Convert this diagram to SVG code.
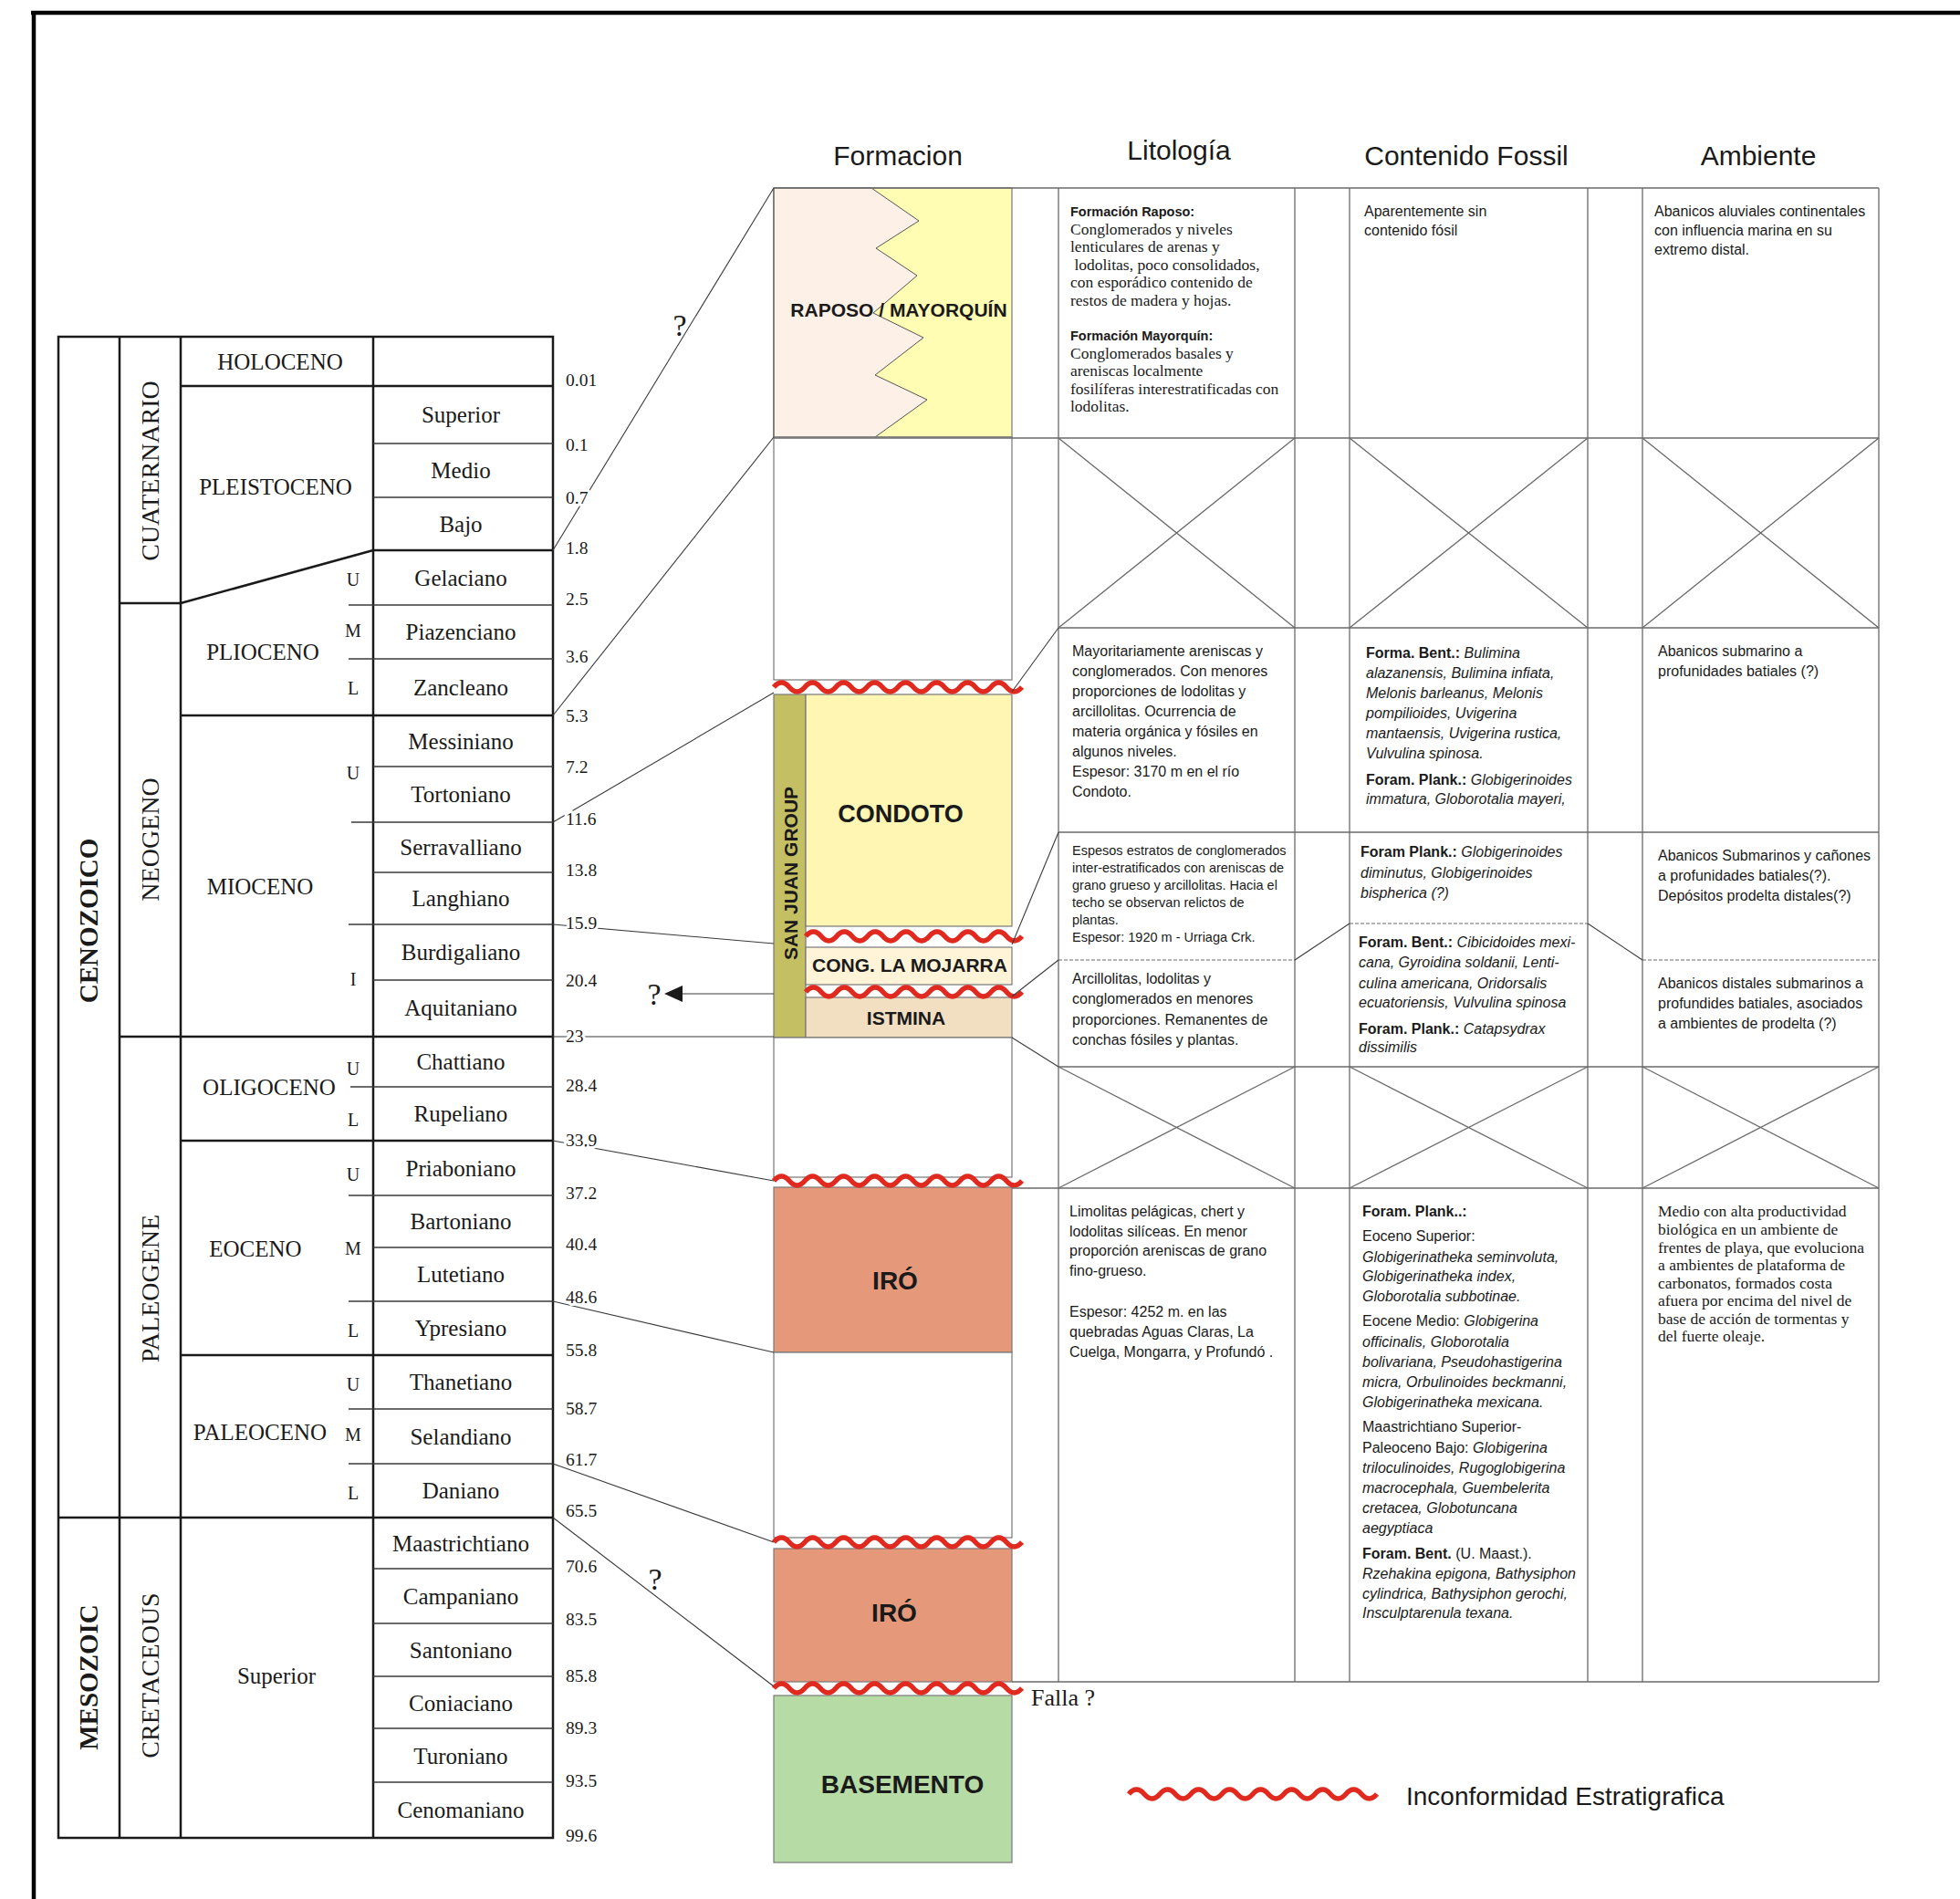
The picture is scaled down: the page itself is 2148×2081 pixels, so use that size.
<svg xmlns="http://www.w3.org/2000/svg" xmlns:xlink="http://www.w3.org/1999/xlink" width="2148" height="2081" viewBox="0 0 2148 2081">
<style>
text{fill:#1a1a1a}
.tn{font-family:"Liberation Serif","Times New Roman",serif}
.ar{font-family:"Liberation Sans",Arial,sans-serif}
.stg{font-size:25px;text-anchor:middle}
.ep{font-size:25px;text-anchor:middle}
.per{font-size:28px;text-anchor:middle}
.era{font-size:29px;font-weight:bold;text-anchor:middle}
.uml{font-size:20px;text-anchor:middle}
.age{font-size:19.5px;stroke:#fff;stroke-width:6px;paint-order:stroke;stroke-linejoin:round}
.hdr{font-size:30px;text-anchor:middle}
.fm{font-weight:bold;text-anchor:middle}
.b{font-weight:bold}
.i{font-style:italic}
.c16{font-size:16px}
.c14{font-size:14.5px}
.t17{font-size:17.5px}
.h14{font-size:14.5px;font-weight:bold}
.thick{stroke:#1a1a1a;stroke-width:2.5;fill:none}
.thin{stroke:#3a3a3a;stroke-width:1.5;fill:none}
.grid{stroke:#6a6a6a;stroke-width:1.3;fill:none}
.dash{stroke:#6a6a6a;stroke-width:1.2;fill:none;stroke-dasharray:4 2}
.conn{stroke:#3a3a3a;stroke-width:1.1;fill:none}
.wave{stroke:#E02A1F;stroke-width:5.5;fill:none;stroke-linecap:butt}
.blk{stroke:#777;stroke-width:1.2}
</style>
<defs>
<path id="w15" d="M0,0q8.5,-10 17,0t17,0t17,0t17,0t17,0t17,0t17,0t17,0t17,0t17,0t17,0t17,0t17,0t17,0t17,0t17,0"/>
<path id="w13" d="M0,0q8.47,-10 16.93,0t16.93,0t16.93,0t16.93,0t16.93,0t16.93,0t16.93,0t16.93,0t16.93,0t16.93,0t16.93,0t16.93,0t16.93,0t16.93,0"/>
</defs>
<rect width="2148" height="2081" fill="#fff"/>

<g id="frame">
<line x1="34" y1="14" x2="2148" y2="14" stroke="#000" stroke-width="4.5"/>
<line x1="37" y1="12" x2="37" y2="2081" stroke="#000" stroke-width="4.5"/>
</g>

<g id="headers" class="ar hdr">
<text x="984" y="181">Formacion</text>
<text x="1292" y="175">Litología</text>
<text x="1607" y="181">Contenido Fossil</text>
<text x="1927" y="181">Ambiente</text>
</g>

<g id="timescale">
<g id="ts-lines">
<rect x="64" y="369" width="542" height="1645" class="thick"/>
<line x1="131" y1="369" x2="131" y2="2014" class="thick"/>
<line x1="198" y1="369" x2="198" y2="2014" class="thick"/>
<line x1="409" y1="369" x2="409" y2="2014" class="thick"/>
<line x1="198" y1="423" x2="606" y2="423" class="thick"/>
<line x1="131" y1="661" x2="198" y2="661" class="thick"/>
<line x1="198" y1="661" x2="409" y2="603" class="thick"/>
<line x1="409" y1="603" x2="606" y2="603" class="thick"/>
<line x1="198" y1="784" x2="606" y2="784" class="thick"/>
<line x1="131" y1="1136" x2="606" y2="1136" class="thick"/>
<line x1="198" y1="1250" x2="606" y2="1250" class="thick"/>
<line x1="198" y1="1485" x2="606" y2="1485" class="thick"/>
<line x1="64" y1="1663" x2="606" y2="1663" class="thick"/>
<line x1="409" y1="486" x2="606" y2="486" class="thin"/>
<line x1="409" y1="545" x2="606" y2="545" class="thin"/>
<line x1="382" y1="663" x2="606" y2="663" class="thin"/>
<line x1="382" y1="722" x2="606" y2="722" class="thin"/>
<line x1="409" y1="840" x2="606" y2="840" class="thin"/>
<line x1="385" y1="901" x2="606" y2="901" class="thin"/>
<line x1="409" y1="956" x2="606" y2="956" class="thin"/>
<line x1="382" y1="1013" x2="606" y2="1013" class="thin"/>
<line x1="409" y1="1074" x2="606" y2="1074" class="thin"/>
<line x1="384" y1="1191" x2="606" y2="1191" class="thin"/>
<line x1="382" y1="1310" x2="606" y2="1310" class="thin"/>
<line x1="409" y1="1367" x2="606" y2="1367" class="thin"/>
<line x1="382" y1="1426" x2="606" y2="1426" class="thin"/>
<line x1="382" y1="1544" x2="606" y2="1544" class="thin"/>
<line x1="382" y1="1604" x2="606" y2="1604" class="thin"/>
<line x1="409" y1="1719" x2="606" y2="1719" class="thin"/>
<line x1="409" y1="1779" x2="606" y2="1779" class="thin"/>
<line x1="409" y1="1837" x2="606" y2="1837" class="thin"/>
<line x1="409" y1="1894" x2="606" y2="1894" class="thin"/>
<line x1="409" y1="1953" x2="606" y2="1953" class="thin"/>
</g>
<g id="ts-eras" class="tn era">
<text transform="translate(107,1009) rotate(-90)">CENOZOICO</text>
<text transform="translate(107,1838) rotate(-90)">MESOZOIC</text>
</g>
<g id="ts-periods" class="tn per">
<text transform="translate(174,516) rotate(-90)">CUATERNARIO</text>
<text transform="translate(174,920) rotate(-90)">NEOGENO</text>
<text transform="translate(174,1412) rotate(-90)">PALEOGENE</text>
<text transform="translate(174,1836) rotate(-90)">CRETACEOUS</text>
</g>
<g id="ts-epochs" class="tn ep">
<text x="307" y="405">HOLOCENO</text>
<text x="302" y="542">PLEISTOCENO</text>
<text x="288" y="723">PLIOCENO</text>
<text x="285" y="980">MIOCENO</text>
<text x="295" y="1200">OLIGOCENO</text>
<text x="280" y="1377">EOCENO</text>
<text x="285" y="1578">PALEOCENO</text>
<text x="303" y="1845">Superior</text>
</g>
<g id="ts-subepochs" class="tn uml">
<text x="387" y="642">U</text><text x="387" y="698">M</text><text x="387" y="761">L</text>
<text x="387" y="854">U</text><text x="387" y="1080">I</text>
<text x="387" y="1178">U</text><text x="387" y="1234">L</text>
<text x="387" y="1294">U</text><text x="387" y="1375">M</text><text x="387" y="1465">L</text>
<text x="387" y="1524">U</text><text x="387" y="1579">M</text><text x="387" y="1643">L</text>
</g>
<g id="ts-stages" class="tn stg">
<text x="505" y="463">Superior</text>
<text x="505" y="524">Medio</text>
<text x="505" y="583">Bajo</text>
<text x="505" y="642">Gelaciano</text>
<text x="505" y="701">Piazenciano</text>
<text x="505" y="762">Zancleano</text>
<text x="505" y="821">Messiniano</text>
<text x="505" y="879">Tortoniano</text>
<text x="505" y="937">Serravalliano</text>
<text x="505" y="993">Langhiano</text>
<text x="505" y="1052">Burdigaliano</text>
<text x="505" y="1113">Aquitaniano</text>
<text x="505" y="1172">Chattiano</text>
<text x="505" y="1229">Rupeliano</text>
<text x="505" y="1289">Priaboniano</text>
<text x="505" y="1347">Bartoniano</text>
<text x="505" y="1405">Lutetiano</text>
<text x="505" y="1464">Ypresiano</text>
<text x="505" y="1523">Thanetiano</text>
<text x="505" y="1583">Selandiano</text>
<text x="505" y="1642">Daniano</text>
<text x="505" y="1700">Maastrichtiano</text>
<text x="505" y="1758">Campaniano</text>
<text x="505" y="1817">Santoniano</text>
<text x="505" y="1875">Coniaciano</text>
<text x="505" y="1933">Turoniano</text>
<text x="505" y="1992">Cenomaniano</text>
</g>
</g>

<g id="formation-column">
<g id="fm-raposo">
<rect x="848" y="206" width="261" height="273" fill="#FFFCB4" class="blk"/>
<polygon points="848,206 955,206 1007,242 960,272 1005,302 957,343 1012,370 959,411 1016,438 959,479 848,479" fill="#FDF0E6" stroke="#555" stroke-width="1"/>
<line x1="848" y1="206" x2="848" y2="479" class="blk"/>
<text x="985" y="347" class="ar fm" font-size="21">RAPOSO / MAYORQUÍN</text>
</g>
<g id="fm-gap1"><rect x="848" y="479" width="261" height="266" fill="#fff" class="blk"/></g>
<g id="fm-sanjuan">
<rect x="848" y="761" width="35" height="376" fill="#C5BF64" class="blk"/>
<text transform="translate(874,957) rotate(-90)" class="ar fm" font-size="21">SAN JUAN GROUP</text>
</g>
<g id="fm-condoto">
<rect x="883" y="761" width="226" height="254" fill="#FFF6B4" class="blk"/>
<text x="987" y="901" class="ar fm" font-size="27">CONDOTO</text>
</g>
<g id="fm-mojarra">
<rect x="883" y="1038" width="226" height="41" fill="#FFF4D8" class="blk"/>
<text x="997" y="1065" class="ar fm" font-size="21">CONG. LA MOJARRA</text>
</g>
<g id="fm-istmina">
<rect x="883" y="1093" width="226" height="44" fill="#F2DEC0" class="blk"/>
<text x="993" y="1123" class="ar fm" font-size="21">ISTMINA</text>
</g>
<g id="fm-gap2"><rect x="848" y="1137" width="261" height="153" fill="#fff" class="blk"/></g>
<g id="fm-iro1">
<rect x="848" y="1301" width="261" height="181" fill="#E5997A" class="blk"/>
<text x="981" y="1413" class="ar fm" font-size="28">IRÓ</text>
</g>
<g id="fm-gap3"><rect x="848" y="1482" width="261" height="203" fill="#fff" class="blk"/></g>
<g id="fm-iro2">
<rect x="848" y="1697" width="261" height="146" fill="#E5997A" class="blk"/>
<text x="980" y="1777" class="ar fm" font-size="28">IRÓ</text>
</g>
<g id="fm-basemento">
<rect x="848" y="1858" width="261" height="183" fill="#B7DBA5" class="blk"/>
<text x="989" y="1965" class="ar fm" font-size="28">BASEMENTO</text>
</g>
<g id="unconformities" class="wave">
<use xlink:href="#w15" x="848" y="753"/>
<use xlink:href="#w13" x="883" y="1026"/>
<use xlink:href="#w13" x="883" y="1087"/>
<use xlink:href="#w15" x="848" y="1294"/>
<use xlink:href="#w15" x="848" y="1690"/>
<use xlink:href="#w15" x="848" y="1850"/>
</g>
<text id="falla" x="1130" y="1869" class="tn" font-size="26">Falla ?</text>
</g>

<g id="table-grid">
<line x1="848" y1="206" x2="2059" y2="206" class="grid"/>
<line x1="848" y1="480" x2="2059" y2="480" class="grid"/>
<line x1="1160" y1="688" x2="2059" y2="688" class="grid"/>
<line x1="1160" y1="912" x2="2059" y2="912" class="grid"/>
<line x1="1160" y1="1169" x2="2059" y2="1169" class="grid"/>
<line x1="1109" y1="1302" x2="2059" y2="1302" class="grid"/>
<line x1="1109" y1="1843" x2="2059" y2="1843" class="grid"/>
<line x1="1160" y1="1052" x2="1419" y2="1052" class="dash"/>
<line x1="1479" y1="1012" x2="1740" y2="1012" class="dash"/>
<line x1="1800" y1="1052" x2="2059" y2="1052" class="dash"/>
<line x1="1160" y1="206" x2="1160" y2="1843" class="grid"/>
<line x1="1419" y1="206" x2="1419" y2="1843" class="grid"/>
<line x1="1479" y1="206" x2="1479" y2="1843" class="grid"/>
<line x1="1740" y1="206" x2="1740" y2="1843" class="grid"/>
<line x1="1800" y1="206" x2="1800" y2="1843" class="grid"/>
<line x1="2059" y1="206" x2="2059" y2="1843" class="grid"/>
<path class="grid" d="M1160,480L1419,688M1419,480L1160,688M1479,480L1740,688M1740,480L1479,688M1800,480L2059,688M2059,480L1800,688"/>
<path class="grid" d="M1160,1169L1419,1302M1419,1169L1160,1302M1479,1169L1740,1302M1740,1169L1479,1302M1800,1169L2059,1302M2059,1169L1800,1302"/>
</g>

<g id="connectors" class="conn">
<line x1="606" y1="603" x2="848" y2="206"/>
<line x1="606" y1="784" x2="848" y2="479"/>
<line x1="606" y1="901" x2="848" y2="759"/>
<line x1="606" y1="1013" x2="848" y2="1034"/>
<line x1="606" y1="1136" x2="848" y2="1136"/>
<line x1="606" y1="1250" x2="848" y2="1294"/>
<line x1="606" y1="1426" x2="848" y2="1482"/>
<line x1="606" y1="1604" x2="848" y2="1690"/>
<line x1="606" y1="1663" x2="848" y2="1848"/>
<line x1="1109" y1="758" x2="1160" y2="688"/>
<line x1="1109" y1="1035" x2="1160" y2="912"/>
<line x1="1109" y1="1092" x2="1160" y2="1052"/>
<line x1="1109" y1="1137" x2="1160" y2="1169"/>
<line x1="1419" y1="1052" x2="1479" y2="1012"/>
<line x1="1740" y1="1012" x2="1800" y2="1052"/>
<line x1="848" y1="1089" x2="746" y2="1089"/>
<polygon points="728,1089 748,1080 748,1098" fill="#1a1a1a" stroke="none"/>
</g>

<g id="ages" class="tn age">
<text x="620" y="423">0.01</text>
<text x="620" y="494">0.1</text>
<text x="620" y="552">0.7</text>
<text x="620" y="607">1.8</text>
<text x="620" y="663">2.5</text>
<text x="620" y="726">3.6</text>
<text x="620" y="791">5.3</text>
<text x="620" y="847">7.2</text>
<text x="620" y="904">11.6</text>
<text x="620" y="960">13.8</text>
<text x="620" y="1018">15.9</text>
<text x="620" y="1081">20.4</text>
<text x="620" y="1142">23</text>
<text x="620" y="1196">28.4</text>
<text x="620" y="1256">33.9</text>
<text x="620" y="1314">37.2</text>
<text x="620" y="1370">40.4</text>
<text x="620" y="1428">48.6</text>
<text x="620" y="1486">55.8</text>
<text x="620" y="1550">58.7</text>
<text x="620" y="1606">61.7</text>
<text x="620" y="1662">65.5</text>
<text x="620" y="1723">70.6</text>
<text x="620" y="1781">83.5</text>
<text x="620" y="1843">85.8</text>
<text x="620" y="1900">89.3</text>
<text x="620" y="1958">93.5</text>
<text x="620" y="2018">99.6</text>
</g>

<g id="queries" class="tn" font-size="34" text-anchor="middle">
<text x="745" y="368">?</text>
<text x="717" y="1101">?</text>
<text x="718" y="1742">?</text>
</g>

<g id="lit-raposo">
<text x="1173" y="237" class="ar h14">Formación Raposo:</text>
<text class="tn t17"><tspan x="1173" y="257">Conglomerados y niveles</tspan><tspan x="1173" y="276">lenticulares de arenas y</tspan><tspan x="1173" y="296"> lodolitas, poco consolidados,</tspan><tspan x="1173" y="315">con esporádico contenido de</tspan><tspan x="1173" y="335">restos de madera y hojas.</tspan></text>
<text x="1173" y="373" class="ar h14">Formación Mayorquín:</text>
<text class="tn t17"><tspan x="1173" y="393">Conglomerados basales y</tspan><tspan x="1173" y="412">areniscas localmente</tspan><tspan x="1173" y="432">fosilíferas interestratificadas con</tspan><tspan x="1173" y="451">lodolitas.</tspan></text>
</g>
<g id="lit-condoto"><text class="ar c16"><tspan x="1175" y="719">Mayoritariamente areniscas y</tspan><tspan x="1175" y="741">conglomerados. Con menores</tspan><tspan x="1175" y="763">proporciones de lodolitas y</tspan><tspan x="1175" y="785">arcillolitas. Ocurrencia de</tspan><tspan x="1175" y="807">materia orgánica y fósiles en</tspan><tspan x="1175" y="829">algunos niveles.</tspan><tspan x="1175" y="851">Espesor: 3170 m en el río</tspan><tspan x="1175" y="873">Condoto.</tspan></text></g>
<g id="lit-mojarra"><text class="ar c14"><tspan x="1175" y="937">Espesos estratos de conglomerados</tspan><tspan x="1175" y="956">inter-estratificados con areniscas de</tspan><tspan x="1175" y="975">grano grueso y arcillolitas. Hacia el</tspan><tspan x="1175" y="994">techo se observan relictos de</tspan><tspan x="1175" y="1013">plantas.</tspan><tspan x="1175" y="1032">Espesor: 1920 m - Urriaga Crk.</tspan></text></g>
<g id="lit-istmina"><text class="ar c16"><tspan x="1175" y="1078">Arcillolitas, lodolitas y</tspan><tspan x="1175" y="1100">conglomerados en menores</tspan><tspan x="1175" y="1123">proporciones. Remanentes de</tspan><tspan x="1175" y="1145">conchas fósiles y plantas.</tspan></text></g>
<g id="lit-iro"><text class="ar c16"><tspan x="1172" y="1333">Limolitas pelágicas, chert y</tspan><tspan x="1172" y="1355">lodolitas silíceas. En menor</tspan><tspan x="1172" y="1376">proporción areniscas de grano</tspan><tspan x="1172" y="1398">fino-grueso.</tspan><tspan x="1172" y="1443">Espesor: 4252 m. en las</tspan><tspan x="1172" y="1465">quebradas  Aguas Claras, La</tspan><tspan x="1172" y="1487">Cuelga, Mongarra, y Profundó .</tspan></text></g>

<g id="fos-raposo"><text class="ar c16"><tspan x="1495" y="237">Aparentemente sin</tspan><tspan x="1495" y="258">contenido fósil</tspan></text></g>
<g id="fos-condoto" class="ar c16">
<text x="1497" y="721"><tspan class="b">Forma. Bent.:</tspan><tspan class="i"> Bulimina</tspan></text>
<text x="1497" y="743" class="i">alazanensis, Bulimina infiata,</text>
<text x="1497" y="765" class="i">Melonis barleanus, Melonis</text>
<text x="1497" y="787" class="i">pompilioides, Uvigerina</text>
<text x="1497" y="809" class="i">mantaensis, Uvigerina rustica,</text>
<text x="1497" y="831" class="i">Vulvulina spinosa.</text>
<text x="1497" y="860"><tspan class="b">Foram. Plank.:</tspan><tspan class="i"> Globigerinoides</tspan></text>
<text x="1497" y="881" class="i">immatura, Globorotalia mayeri,</text>
</g>
<g id="fos-mojarra" class="ar c16">
<text x="1491" y="939"><tspan class="b">Foram Plank.:</tspan><tspan class="i"> Globigerinoides</tspan></text>
<text x="1491" y="962" class="i">diminutus, Globigerinoides</text>
<text x="1491" y="984" class="i">bispherica  (?)</text>
</g>
<g id="fos-istmina" class="ar c16">
<text x="1489" y="1038"><tspan class="b">Foram. Bent.:</tspan><tspan class="i"> Cibicidoides mexi-</tspan></text>
<text x="1489" y="1060" class="i">cana, Gyroidina soldanii, Lenti-</text>
<text x="1489" y="1083" class="i">culina americana, Oridorsalis</text>
<text x="1489" y="1104" class="i">ecuatoriensis, Vulvulina spinosa</text>
<text x="1489" y="1133"><tspan class="b">Foram. Plank.:</tspan><tspan class="i"> Catapsydrax</tspan></text>
<text x="1489" y="1153" class="i">dissimilis</text>
</g>
<g id="fos-iro" class="ar c16">
<text x="1493" y="1333" class="b">Foram. Plank..:</text>
<text x="1493" y="1360">Eoceno Superior:</text>
<text x="1493" y="1383" class="i">Globigerinatheka seminvoluta,</text>
<text x="1493" y="1404" class="i">Globigerinatheka index,</text>
<text x="1493" y="1426" class="i">Globorotalia subbotinae.</text>
<text x="1493" y="1453">Eocene Medio: <tspan class="i">Globigerina</tspan></text>
<text x="1493" y="1476" class="i">officinalis, Globorotalia</text>
<text x="1493" y="1498" class="i">bolivariana, Pseudohastigerina</text>
<text x="1493" y="1520" class="i">micra, Orbulinoides beckmanni,</text>
<text x="1493" y="1542" class="i">Globigerinatheka mexicana.</text>
<text x="1493" y="1569">Maastrichtiano Superior-</text>
<text x="1493" y="1592">Paleoceno Bajo: <tspan class="i">Globigerina</tspan></text>
<text x="1493" y="1614" class="i">triloculinoides, Rugoglobigerina</text>
<text x="1493" y="1636" class="i">macrocephala, Guembelerita</text>
<text x="1493" y="1658" class="i">cretacea, Globotuncana</text>
<text x="1493" y="1680" class="i">aegyptiaca</text>
<text x="1493" y="1708"><tspan class="b">Foram. Bent.</tspan> (U. Maast.).</text>
<text x="1493" y="1730" class="i">Rzehakina epigona, Bathysiphon</text>
<text x="1493" y="1752" class="i">cylindrica, Bathysiphon gerochi,</text>
<text x="1493" y="1773" class="i">Insculptarenula texana.</text>
</g>

<g id="amb-raposo"><text class="ar c16"><tspan x="1813" y="237">Abanicos aluviales continentales</tspan><tspan x="1813" y="258">con influencia marina en su</tspan><tspan x="1813" y="279">extremo distal.</tspan></text></g>
<g id="amb-condoto"><text class="ar c16"><tspan x="1817" y="719">Abanicos submarino a</tspan><tspan x="1817" y="741">profunidades batiales (?)</tspan></text></g>
<g id="amb-mojarra"><text class="ar c16"><tspan x="1817" y="943">Abanicos Submarinos y cañones</tspan><tspan x="1817" y="965">a profunidades batiales(?).</tspan><tspan x="1817" y="987">Depósitos prodelta distales(?)</tspan></text></g>
<g id="amb-istmina"><text class="ar c16"><tspan x="1817" y="1083">Abanicos distales submarinos a</tspan><tspan x="1817" y="1105">profundides batiales, asociados</tspan><tspan x="1817" y="1127">a ambientes de prodelta (?)</tspan></text></g>
<g id="amb-iro"><text class="tn t17"><tspan x="1817" y="1333">Medio con alta productividad</tspan><tspan x="1817" y="1353">biológica en un ambiente de</tspan><tspan x="1817" y="1373">frentes de playa, que evoluciona</tspan><tspan x="1817" y="1392">a ambientes de plataforma de</tspan><tspan x="1817" y="1412">carbonatos, formados costa</tspan><tspan x="1817" y="1431">afuera por encima del nivel de</tspan><tspan x="1817" y="1451">base de acción de tormentas y</tspan><tspan x="1817" y="1470">del fuerte oleaje.</tspan></text></g>

<g id="legend">
<use xlink:href="#w15" x="1237" y="1966" class="wave"/>
<text x="1541" y="1978" class="ar" font-size="28">Inconformidad Estratigrafica</text>
</g>
</svg>
